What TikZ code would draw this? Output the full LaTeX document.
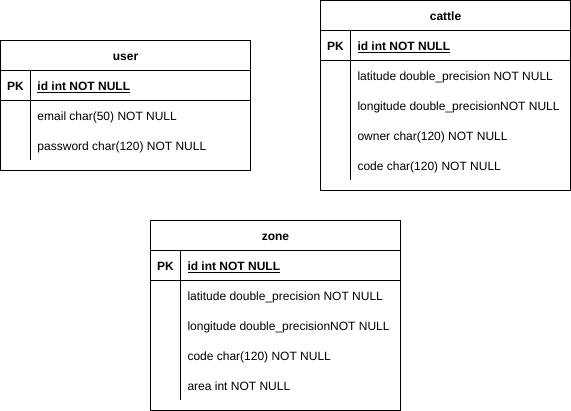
\documentclass[tikz,border=0pt]{standalone}
\usepackage{fontspec}
\setmainfont{Liberation Sans}
\usetikzlibrary{positioning}

\begin{document}
\begin{tikzpicture}[x=1pt, y=-1pt, line width=1pt,
    every node/.style={inner sep=0pt, outer sep=0pt, text height=11pt, text depth=1pt,
        font=\fontsize{12}{14}\selectfont},
    box/.style={draw, rectangle, minimum width=250pt, minimum height=30pt},
    head/.style={box, anchor=north west, font=\fontsize{12}{14}\selectfont\bfseries},
    pk/.style={font=\fontsize{12}{14}\selectfont\bfseries},
    keyfield/.style={anchor=west, font=\fontsize{12}{14}\selectfont\bfseries},
    field/.style={anchor=west}]
    \useasboundingbox (0,0) rectangle (571,411);

    % user
    \node[head] (user) at (0.5,40.5) {user};
    \node[box, below=0pt of user] (user-pk) {};
    \node[box, minimum height=70pt, below=0pt of user-pk] (user-body) {};
    \node[pk] (user-pklabel) at ([xshift=15pt]user-pk.west) {PK};
    \node[keyfield] (user-id) at ([xshift=37pt]user-pk.west) {\underline{id int NOT NULL}};
    \foreach \f [count=\i] in {email char(50) NOT NULL, password char(120) NOT NULL}
        \node[field] (user-f\i) at ([xshift=37pt, yshift={-15pt-30pt*(\i-1)}]user-body.north west) {\f};
    \draw ([xshift=30pt]user-pk.north west) -- ([xshift=30pt, yshift=10pt]user-body.south west);

    % cattle
    \node[head] (cattle) at (320.5,0.5) {cattle};
    \node[box, below=0pt of cattle] (cattle-pk) {};
    \node[box, minimum height=130pt, below=0pt of cattle-pk] (cattle-body) {};
    \node[pk] (cattle-pklabel) at ([xshift=15pt]cattle-pk.west) {PK};
    \node[keyfield] (cattle-id) at ([xshift=37pt]cattle-pk.west) {\underline{id int NOT NULL}};
    \foreach \f [count=\i] in {latitude double\_precision NOT NULL, longitude double\_precisionNOT NULL,
        owner char(120) NOT NULL, code char(120) NOT NULL}
        \node[field] (cattle-f\i) at ([xshift=37pt, yshift={-15pt-30pt*(\i-1)}]cattle-body.north west) {\f};
    \draw ([xshift=30pt]cattle-pk.north west) -- ([xshift=30pt, yshift=10pt]cattle-body.south west);

    % zone
    \node[head] (zone) at (150.5,220.5) {zone};
    \node[box, below=0pt of zone] (zone-pk) {};
    \node[box, minimum height=130pt, below=0pt of zone-pk] (zone-body) {};
    \node[pk] (zone-pklabel) at ([xshift=15pt]zone-pk.west) {PK};
    \node[keyfield] (zone-id) at ([xshift=37pt]zone-pk.west) {\underline{id int NOT NULL}};
    \foreach \f [count=\i] in {latitude double\_precision NOT NULL, longitude double\_precisionNOT NULL,
        code char(120) NOT NULL, area int NOT NULL}
        \node[field] (zone-f\i) at ([xshift=37pt, yshift={-15pt-30pt*(\i-1)}]zone-body.north west) {\f};
    \draw ([xshift=30pt]zone-pk.north west) -- ([xshift=30pt, yshift=10pt]zone-body.south west);
\end{tikzpicture}
\end{document}
